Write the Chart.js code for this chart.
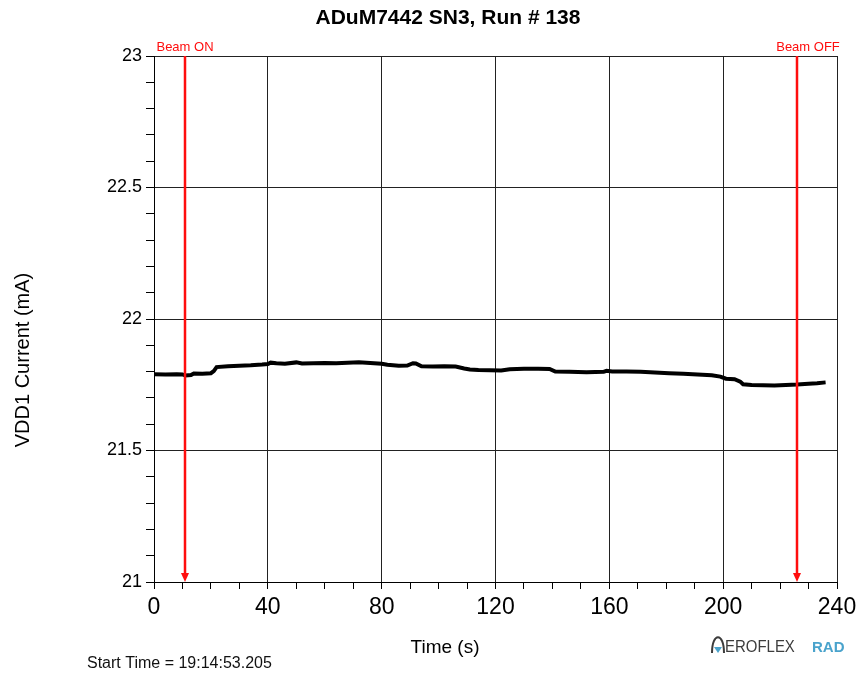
<!DOCTYPE html>
<html>
<head>
<meta charset="utf-8">
<title>ADuM7442 SN3, Run # 138</title>
<script src="https://cdn.jsdelivr.net/npm/chart.js@4.4.0/dist/chart.umd.min.js"></script>
<style>
  html, body { margin: 0; padding: 0; background: #fff; }
  #chart { display: block; }
</style>
</head>
<body>
<canvas id="chart" width="858" height="674"></canvas>
<script>
// VDD1 supply current during the run (s, mA)
var times = [0, 4, 8, 10, 11, 13, 14, 17, 20, 21, 22, 26, 30, 34, 38, 40, 41, 43, 46, 50,
	52, 56, 60, 64, 68, 72, 76, 80, 82, 86, 89, 91, 92, 94, 98, 102, 106, 109, 111, 114,
	118, 122, 125, 130, 135, 139, 141, 146, 152, 158, 159, 161, 166, 171, 176, 181, 186, 191, 196, 199,
	201, 204, 206, 207, 210, 214, 218, 222, 226, 230, 233, 236];
var current = [21.790, 21.789, 21.790, 21.789, 21.785, 21.787, 21.793, 21.792, 21.794, 21.802,
	21.817, 21.820, 21.822, 21.824, 21.827, 21.829, 21.834, 21.832, 21.830, 21.835,
	21.831, 21.832, 21.833, 21.832, 21.834, 21.836, 21.833, 21.830, 21.826, 21.822,
	21.823, 21.832, 21.831, 21.820, 21.819, 21.820, 21.819, 21.812, 21.808, 21.806,
	21.805, 21.804, 21.809, 21.811, 21.811, 21.810, 21.800, 21.799, 21.798, 21.799,
	21.803, 21.800, 21.800, 21.799, 21.797, 21.794, 21.792, 21.789, 21.786, 21.781,
	21.773, 21.771, 21.762, 21.752, 21.749, 21.748, 21.747, 21.749, 21.751, 21.754,
	21.756, 21.759];

// beam markers
var beamTimes = [11, 226];
var beamLabels = ['Beam ON', 'Beam OFF'];

// labelled ticks
var xTicks = [0, 40, 80, 120, 160, 200, 240];
var yTicks = [21, 21.5, 22, 22.5, 23];

var points = [];
for (var i = 0; i < times.length; i++) {
	points.push({ x: times[i], y: current[i] });
}

function findTick(list, value) {
	for (var i = 0; i < list.length; i++) {
		if (Math.abs(list[i] - value) < 1e-6) return list[i];
	}
	return null;
}

var FONT = '"Liberation Sans", Arial, sans-serif';

var overlay = {
	id: 'overlay',
	afterDatasetsDraw: function(chart) {
		var ctx = chart.ctx;
		var area = chart.chartArea;
		var x = chart.scales.x;
		ctx.save();
		for (var i = 0; i < beamTimes.length; i++) {
			var px = Math.round(x.getPixelForValue(beamTimes[i]));
			ctx.strokeStyle = '#ff0d0d';
			ctx.lineWidth = 2.5;
			ctx.beginPath();
			ctx.moveTo(px, area.top);
			ctx.lineTo(px, area.bottom - 6);
			ctx.stroke();
			ctx.fillStyle = '#ff0d0d';
			ctx.beginPath();
			ctx.moveTo(px - 4, area.bottom - 9);
			ctx.lineTo(px + 4, area.bottom - 9);
			ctx.lineTo(px, area.bottom);
			ctx.closePath();
			ctx.fill();
			ctx.font = '13px ' + FONT;
			ctx.textBaseline = 'alphabetic';
			ctx.textAlign = 'center';
			ctx.fillText(beamLabels[i], i === 0 ? px : px + 11, 51);
		}
		ctx.restore();
	},
	afterDraw: function(chart) {
		var ctx = chart.ctx;
		ctx.save();
		ctx.fillStyle = '#000';
		ctx.textBaseline = 'alphabetic';

		ctx.textAlign = 'center';
		ctx.font = 'bold 21px ' + FONT;
		ctx.fillText('ADuM7442 SN3, Run # 138', 448, 24);

		ctx.font = '19px ' + FONT;
		ctx.fillText('Time (s)', 445, 653);

		ctx.save();
		ctx.translate(29, 360);
		ctx.rotate(-Math.PI / 2);
		ctx.font = '20px ' + FONT;
		ctx.fillText('VDD1 Current (mA)', 0, 0);
		ctx.restore();

		ctx.textAlign = 'left';
		ctx.font = '16px ' + FONT;
		ctx.fillStyle = '#111';
		ctx.fillText('Start Time = 19:14:53.205', 87, 668);

		// logo
		ctx.strokeStyle = '#3c3c3c';
		ctx.lineWidth = 2;
		ctx.beginPath();
		ctx.moveTo(712, 653);
		ctx.bezierCurveTo(712, 632, 724, 632, 724, 653);
		ctx.stroke();
		ctx.fillStyle = '#4aa3cc';
		ctx.beginPath();
		ctx.moveTo(714, 647);
		ctx.lineTo(722, 647);
		ctx.lineTo(718, 653);
		ctx.closePath();
		ctx.fill();
		ctx.fillStyle = '#3c3c3c';
		ctx.save();
		ctx.translate(725, 652);
		ctx.scale(0.88, 1);
		ctx.font = '17px ' + FONT;
		ctx.fillText('EROFLEX', 0, 0);
		ctx.restore();
		ctx.fillStyle = '#4aa3cc';
		ctx.font = 'bold 15px ' + FONT;
		ctx.fillText('RAD', 812, 652);
		ctx.restore();
	}
};

var chart = new Chart(document.getElementById('chart'), {
	type: 'line',
	data: {
		datasets: [{
			label: 'VDD1 Current',
			data: points,
			borderColor: '#000',
			borderWidth: 4,
			pointRadius: 0,
			tension: 0,
			fill: false
		}]
	},
	options: {
		responsive: false,
		animation: false,
		devicePixelRatio: 1,
		layout: { padding: { top: 56, right: 21, bottom: 0, left: 0 } },
		plugins: {
			legend: { display: false },
			tooltip: { enabled: false },
			title: { display: false }
		},
		scales: {
			x: {
				type: 'linear',
				min: 0,
				max: 240,
				afterFit: function(scale) {
					scale.height = 92;
					scale.paddingLeft = 0;
					scale.paddingRight = 0;
				},
				ticks: {
					stepSize: 10,
					autoSkip: false,
					maxRotation: 0,
					padding: 5,
					color: '#000',
					font: { family: FONT, size: 23 },
					callback: function(value) {
						var t = findTick(xTicks, value);
						return t === null ? '' : String(t);
					}
				},
				grid: {
					color: function(c) {
						return findTick(xTicks, c.tick.value) === null ? 'rgba(0,0,0,0)' : '#222';
					},
					tickColor: '#000',
					tickLength: 7,
					lineWidth: 1
				},
				border: { color: '#000', width: 1 }
			},
			y: {
				min: 21,
				max: 23,
				afterFit: function(scale) {
					scale.width = 154;
					scale.paddingTop = 0;
					scale.paddingBottom = 0;
				},
				ticks: {
					stepSize: 0.1,
					autoSkip: false,
					padding: 4,
					color: '#000',
					font: { family: FONT, size: 18 },
					callback: function(value) {
						var t = findTick(yTicks, value);
						return t === null ? '' : String(t);
					}
				},
				grid: {
					color: function(c) {
						return findTick(yTicks, c.tick.value) === null ? 'rgba(0,0,0,0)' : '#222';
					},
					tickColor: '#000',
					tickLength: 8,
					lineWidth: 1
				},
				border: { color: '#000', width: 1 }
			}
		}
	},
	plugins: [overlay]
});
</script>
</body>
</html>
